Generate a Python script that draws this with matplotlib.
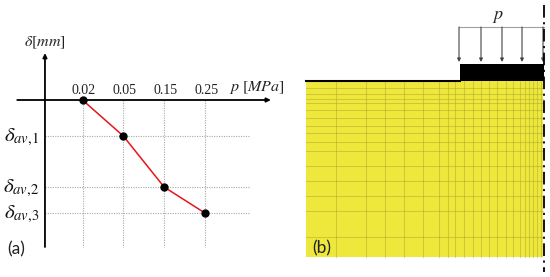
import matplotlib
matplotlib.use("Agg")
import matplotlib.pyplot as plt
from matplotlib.patches import Rectangle

plt.rcParams['mathtext.fontset'] = 'stix'
W, H = 550, 277

pressure_labels = ["0.02", "0.05", "0.15", "0.25"]
p_index = [0, 1, 2, 3]
deflection = [0, 36, 87, 113]
deflection_labels = [r"$\delta_{av{,}1}$", r"$\delta_{av{,}2}$", r"$\delta_{av{,}3}$"]

mesh_x = [336, 366, 385, 404, 423, 439, 448, 455, 464, 473, 481, 489, 497, 506, 513, 520, 525, 529, 533, 537, 541]
mesh_y = [88, 94, 99, 103, 110, 118, 126, 133, 142, 151, 166, 181, 196, 211, 237]
load_x = [459, 481, 502, 522, 543]

fig = plt.figure(figsize=(W/100, H/100), dpi=100)

# left panel: x in category steps, y in deflection units (downward)
axa = fig.add_axes([0, 0, 290/W, 1])
step = 40.8
x0 = 82.5
axa.set_xlim(-x0/step, (290-x0)/step)
axa.set_ylim(277-100, -100)
axa.axis("off")
for i in p_index:
    axa.plot([i, i], [0, 147], color="#a8a8a8", lw=0.8, ls=(0, (1, 1.2)), zorder=1)
for d in deflection[1:]:
    axa.plot([-0.92, 4.1], [d, d], color="#a8a8a8", lw=0.8, ls=(0, (1, 1.2)), zorder=1)
ox = -0.92
arrow = dict(arrowstyle="-|>,head_width=0.12,head_length=0.25", color="black", lw=1.3, shrinkA=0, shrinkB=0)
axa.annotate("", xy=(4.62, 0), xytext=(-1.6, 0), arrowprops=arrow)
axa.annotate("", xy=(ox, -47), xytext=(ox, 147), arrowprops=arrow)
axa.plot(p_index, deflection, color="#e8141c", lw=1.1, zorder=3)
axa.plot(p_index, deflection, ls="none", marker="o", ms=5, color="black", zorder=4)
for i, lab in zip(p_index, pressure_labels):
    axa.text(i + 0.03, -3, lab, ha="center", va="bottom", fontsize=10, family="Liberation Serif", color="#222222")
for d, lab in zip(deflection[1:], deflection_labels):
    axa.text(-1.5, d + 1, lab, ha="center", va="center", fontsize=15, color="#111111")
axa.text(4.28, -4, r"$p\ [MPa]$", ha="center", va="bottom", fontsize=11.5, color="#222222")
axa.text(-0.92, -49, r"$\delta[mm]$", ha="center", va="bottom", fontsize=11.5, color="#222222")
axa.text(-1.63, 149, "(a)", ha="center", va="center", fontsize=12.5, family="Lato", color="#222222")

# right panel: pixel-scaled model geometry
axb = fig.add_axes([0, 0, 1, 1], facecolor="none")
axb.set_xlim(0, W)
axb.set_ylim(H, 0)
axb.axis("off")
axb.add_patch(Rectangle((306, 81), 237, 176, fc="#efe83c", ec="none", zorder=1))
for x in mesh_x:
    axb.plot([x, x], [81, 257], color="#a8a32e", lw=0.8, alpha=0.45, zorder=2)
for y in mesh_y:
    axb.plot([306, 543], [y, y], color="#a8a32e", lw=0.8, alpha=0.45, zorder=2)
axb.plot([306, 460], [80.5, 80.5], color="black", lw=1.5, zorder=3)
axb.add_patch(Rectangle((460, 64), 84, 17, fc="black", ec="none", zorder=3))
axb.plot([459, 544], [27, 27], color="#a0a0a0", lw=0.8, zorder=2)
for x in load_x:
    axb.annotate("", xy=(x, 62), xytext=(x, 27), arrowprops=dict(arrowstyle="-|>,head_width=0.1,head_length=0.2", color="#444444", lw=0.8, shrinkA=0, shrinkB=0))
axb.plot([544, 544], [5, 272], color="black", lw=1.3, ls=(0, (7, 2.5, 1.2, 2.5)), zorder=5)
axb.text(497.5, 16, r"$p$", ha="center", va="center", fontsize=13, color="#222222")
axb.text(322, 248, "(b)", ha="center", va="center", fontsize=12.5, family="Lato", color="#222222", zorder=6)

fig.savefig("out.png", dpi=100)
